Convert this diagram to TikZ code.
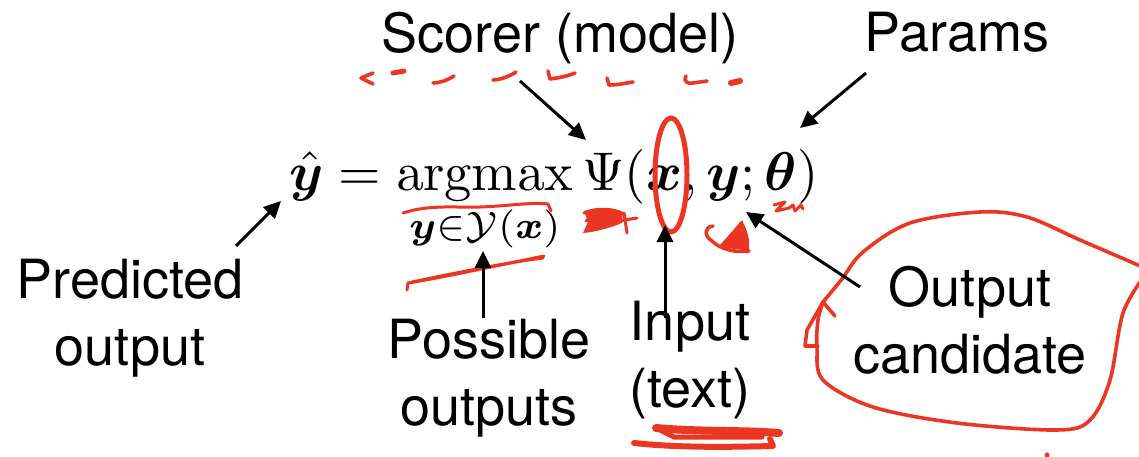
\documentclass[tikz,border=0pt]{standalone}
\usepackage[no-math]{fontspec}
\setmainfont{TeX Gyre Heros}
\usepackage{amsmath,bm,graphicx}
\usetikzlibrary{arrows.meta}
\definecolor{pen}{RGB}{236,54,36}
\begin{document}
\begin{tikzpicture}[x=1pt,y=-1pt,
  lbl/.style={inner sep=0pt, align=center, font=\fontsize{54}{67}\selectfont},
  arr/.style={line width=3pt, -{Triangle[length=17pt,width=16pt]}},
  ink/.style={draw=pen, line width=3.6pt, line cap=round, line join=round},
  thin ink/.style={ink, line width=3pt}]
\fill[white] (0,0) rectangle (1139,457);
\useasboundingbox (0,0) rectangle (1139,457);

% formula
\node[anchor=base west, inner sep=0pt] (eq) at (289,190)
  {\resizebox{529pt}{!}{$\displaystyle\hat{\bm y} = \operatorname*{argmax}_{\bm y\in\mathcal{Y}(\bm x)}\Psi(\bm x,\bm y;\bm\theta)$}};

% labels
\node[lbl, anchor=north] (scorer) at (560,12) {Scorer (model)};
\node[lbl, anchor=north] (params) at (957,12) {Params};
\node[lbl, anchor=north] (pred) at (130,259) {Predicted\\output};
\node[lbl, anchor=north] (poss) at (489,319) {Possible\\outputs};
\node[lbl, anchor=north] (input) at (690,301) {Input\\(text)};
\node[lbl, anchor=north] (cand) at (970,266) {Output\\candidate};

% red annotations: dashed stroke under the scorer label
\draw[ink] (373,73) -- (361,78) -- (373,84);
\draw[ink, line width=5pt] (393,73) -- (404,71);
\draw[ink] (433,83) .. controls (440,83) and (448,80) .. (454,76);
\draw[ink] (493,80) .. controls (500,80) and (510,76) .. (516,72);
\draw[ink] (548,71) -- (550,79) .. controls (558,78) and (568,76) .. (575,73);
\draw[ink] (607,78) -- (609,85) .. controls (618,85) and (626,83) .. (633,82);
\draw[ink] (686,76) .. controls (683,82) and (688,84) .. (693,83) -- (707,81);
\draw[ink, line width=6pt] (731,83) -- (740,81);

\draw[ink, line width=3pt] (403,213) .. controls (430,204) and (460,208) .. (480,207)
  .. controls (510,206) and (530,202) .. (548,204) -- (551,211);
\draw[ink, line width=5pt] (671,175) ellipse (16 and 57);

% scribble left of the x
\fill[pen] (584,211) .. controls (598,206) and (614,207) .. (623,212) -- (622,223)
  .. controls (610,228) and (595,232) .. (583,233) -- (588,222) -- cycle;
\draw[thin ink] (584,213) -- (606,210) -- (586,221) -- (612,216) -- (588,229);
\draw[thin ink] (613,222) -- (637,218);
\draw[thin ink] (624,213) -- (627,233);

% scribble below the y
\draw[ink, line width=3.5pt] (713,226) .. controls (704,227) and (704,236) .. (712,241)
  .. controls (720,249) and (735,253) .. (749,251);
\fill[pen] (742,221) .. controls (748,230) and (750,242) .. (749,249) -- (719,246) -- cycle;
\draw[thin ink] (742,222) -- (722,246) -- (748,249);

% small scribble right of the y
\draw[thin ink] (774,205) -- (785,202) -- (776,211) -- (789,208) -- (793,205) -- (795,211) -- (801,205) -- (803,209);

% double stroke under the subscript
\draw[ink, line width=3pt] (544,256) .. controls (500,265) and (440,278) .. (408,283) -- (407,290);
\draw[ink, line width=3pt] (412,282) .. controls (450,274) and (510,262) .. (543,258);

% thick underline under (text)
\draw[ink, line width=8pt] (656,428) .. controls (700,432) and (740,430) .. (779,433);
\draw[ink, line width=6pt] (634,443) .. controls (680,448) and (730,447) .. (773,446) -- (770,439);
\draw[ink, line width=5pt] (660,430) -- (674,437) -- (762,437);

% loop around "Output candidate"
\draw[ink] plot[smooth, tension=0.55] coordinates {(823,302) (842,279) (863,252) (910,223) (980,212) (1027,217) (1080,240) (1145,268)};
\draw[ink] plot[smooth, tension=0.55] coordinates {(1145,275) (1123,313) (1110,380) (1090,420) (1057,430) (957,423) (873,407) (823,380) (817,347) (818,320) (823,302)};
\draw[ink] (823,302) -- (807,330) -- (805,346) -- (818,346);
\draw[ink] (823,302) -- (835,316);
\fill[pen] (1047,455) circle (2.5);

% arrows
\coordinate (psiTip) at (586,140);
\coordinate (scorerTail) at (520,81);
\coordinate (thetaTip) at (800,128);
\coordinate (paramsTail) at (866,73);
\coordinate (yhatTip) at (281,201);
\coordinate (predTail) at (236,246);
\coordinate (setTip) at (483,251);
\coordinate (possTail) at (483,318);
\coordinate (xTip) at (665,225);
\coordinate (inputTail) at (665,318);
\coordinate (yTip) at (746,212);
\coordinate (candTail) at (860,287);

\draw[arr] (scorerTail) -- (psiTip);
\draw[arr] (paramsTail) -- (thetaTip);
\draw[arr] (predTail) -- (yhatTip);
\draw[arr] (possTail) -- (setTip);
\draw[arr] (inputTail) -- (xTip);
\draw[arr] (candTail) -- (yTip);
\end{tikzpicture}
\end{document}
